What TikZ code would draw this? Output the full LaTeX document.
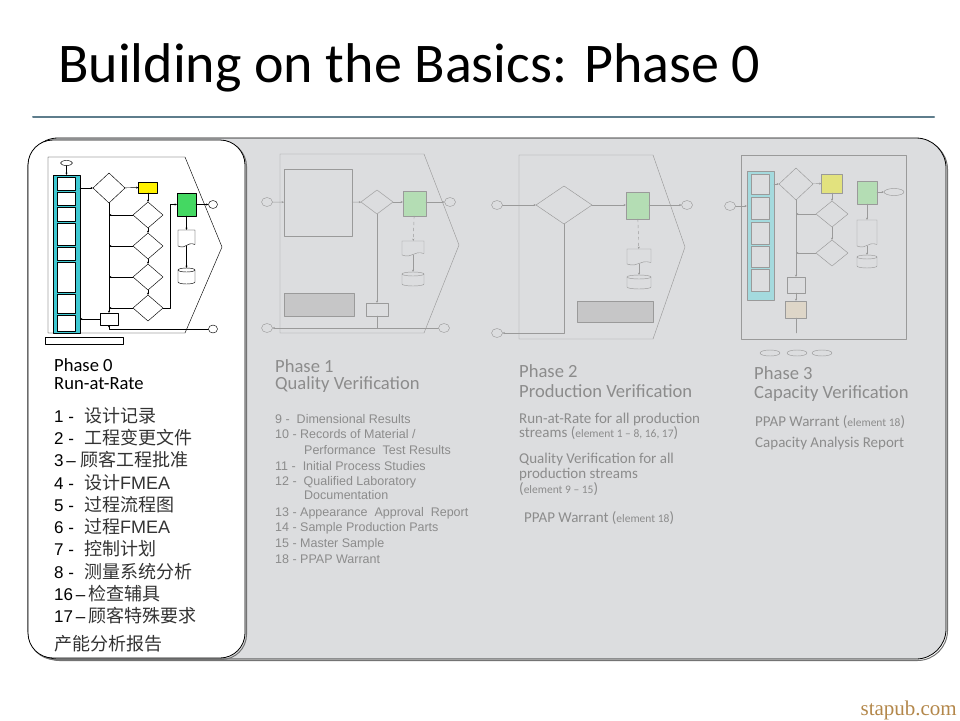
\documentclass[tikz,border=0pt]{standalone}
\usepackage{fontspec}
\setmainfont{Carlito}
\newfontfamily\arial{Liberation Sans}
\newfontfamily\cjk{Noto Sans CJK SC}
\newfontfamily\webfont{Liberation Serif}
\usetikzlibrary{shapes.geometric,arrows.meta}

\definecolor{panelgray}{HTML}{DCDDDF}
\definecolor{rulecol}{HTML}{5E7D8C}
\definecolor{fadetext}{HTML}{8C8C8C}
\definecolor{fadeline}{HTML}{9A9A9A}
\definecolor{barcyan}{HTML}{3EC8D2}
\definecolor{fadecyan}{HTML}{A4DADE}
\definecolor{flowgreen}{HTML}{44D862}
\definecolor{fadegreen}{HTML}{B4DDB4}
\definecolor{fadeyellow}{HTML}{E2E27E}
\definecolor{notegray}{HTML}{C6C6C7}
\definecolor{beige}{HTML}{DED6C8}
\definecolor{webbrown}{HTML}{B3874A}

\tikzset{
  fc/.style={draw, line width=0.45pt, inner sep=0pt, outer sep=0pt},
  fcbox/.style={fc, rectangle},
  fcdia/.style={fc, diamond},
  fcend/.style={fc, ellipse, minimum width=9pt, minimum height=8pt},
  fcspot/.style={fc, draw=none, rectangle},
  wh/.style 2 args={minimum width=#1pt, minimum height=#2pt},
  fcline/.style={line width=0.45pt},
  phasehead/.style={anchor=base west, inner sep=0pt, font=\fontsize{18.6}{18.6}\selectfont},
  p0num/.style={anchor=base west, inner sep=0pt, font=\arial\fontsize{17}{17}\selectfont},
  p0cjk/.style={anchor=base west, inner sep=0pt, font=\cjk\fontsize{18}{18}\selectfont, text=black!80},
  p1item/.style={anchor=base west, inner sep=0pt, font=\arial\fontsize{12.5}{12.5}\selectfont, text=fadetext},
  p2item/.style={anchor=base west, inner sep=0pt, font=\fontsize{15}{15}\selectfont, text=fadetext},
}
\newcommand{\elem}[1]{{\fontsize{11.5}{11.5}\selectfont #1}}
% document outline round a named spot
\newcommand{\docout}[2][]{%
  \draw[fcline,#1] (#2.north west) -- (#2.north east) -- ([yshift=1.5pt]#2.south east)
    .. controls ([yshift=5pt]#2.south) and ([yshift=-4pt]#2.south) .. (#2.south west) -- cycle;}
% data store outline round a named spot, #3 = half width
\newcommand{\cylout}[3][]{%
  \draw[fcline,#1] ([yshift=-2pt]#2.north west) -- ([yshift=2pt]#2.south west)
    arc[start angle=180, end angle=360, x radius=#3pt, y radius=2pt] -- ([yshift=-2pt]#2.north east);
  \draw[fcline,#1] ([yshift=-2pt]#2.north) ellipse[x radius=#3pt, y radius=2pt];}

\begin{document}
\begin{tikzpicture}[x=1pt, y=-1pt, line cap=round, line join=round, >={Stealth[length=2.4pt,width=2pt]}]
	\useasboundingbox (0,0) rectangle (960,720);
	
	% Title and rule
	\node[anchor=base west, inner sep=0pt, font=\fontsize{56}{60}\selectfont] (title) at (58,82) {Building on the Basics: Phase 0};
	\draw[rulecol, line width=2pt] (33,117) -- (934,117);
	
	% Gray panel with a light shadow
	\draw[black!55, line width=1pt, rounded corners=30pt] (29.5,139.5) rectangle (947.5,660.5);
	\draw[fill=panelgray, line width=0.8pt, rounded corners=30pt] (28,138) rectangle (946,659);
	
	% White panel (Phase 0)
	\draw[black!55, line width=1pt, rounded corners=25pt] (29.5,141.5) rectangle (246.5,659.5);
	\draw[fill=white, line width=0.8pt, rounded corners=25pt] (28,140) rectangle (245,658);
	
	% ---------- Phase 0 flow chart ----------
	\draw[fc] (48,157) -- (185,157) -- (222,247) -- (185,333) -- (48,333) -- cycle;
	\node[fcend, wh={12}{5}] (start0) at (66.5,163) {};
	\node[fcbox, fill=barcyan, wh={27}{158}] (bar0) at (66.5,254) {};
	\foreach \ya/\yb [count=\k] in {177/190,192/205,207/221,223/245,247/260,262/292,294/313,315/331}
		\node[fcbox, fill=white, minimum width=18pt, minimum height=\yb-\ya] (bx0\k) at (66.5,{(\ya+\yb)/2}) {};
	\node[fcdia, fill=white, wh={32}{30}] (d01) at (109,188) {};
	\node[fcbox, fill=yellow, wh={19}{11}] (y0) at (148,187.5) {};
	\node[fcdia, fill=white, wh={30}{26}] (d02) at (148,215) {};
	\node[fcdia, fill=white, wh={30}{26}] (d03) at (148,246) {};
	\node[fcdia, fill=white, wh={30}{26}] (d04) at (148,277) {};
	\node[fcdia, fill=white, wh={30}{26}] (d05) at (148,308) {};
	\node[fcbox, fill=flowgreen, wh={19}{23}] (g0) at (186.5,204.5) {};
	\node[fcend] (c01) at (213,204.5) {};
	\node[fcspot, wh={17}{16}] (doc0) at (186.5,238) {};
	\docout[fill=white]{doc0}
	\node[fcspot, wh={17}{16}] (cyl0) at (186.5,276) {};
	\cylout[fill=white]{cyl0}{8.5}
	\node[fcbox, fill=white, wh={18}{12}] (b0) at (109,319) {};
	\node[fcend] (c02) at (213,329) {};
	\node[fcbox, wh={78}{7}] (cap0) at (84,340.5) {};
	\coordinate (k0) at (170,0);
	
	\draw[->, fcline] (start0) -- (bar0);
	\draw[->, fcline] (bar0.east |- d01) -- (d01);
	\draw[->, fcline] (d01) -- (y0);
	\draw[->, fcline] (y0) -- (d02);
	\draw[->, fcline] (d02) -- (d03);
	\draw[->, fcline] (d03) -- (d04);
	\draw[->, fcline] (d04) -- (d05);
	\foreach \d in {d02,d03,d04,d05}
		\draw[->, fcline] (\d) -- (\d -| d01);
	\draw[->, fcline] (d01) -- (b0);
	\draw[->, fcline] (d05.east) -- (d05.east -| k0) |- (g0.west);
	\draw[->, fcline] (g0) -- (c01);
	\draw[->, fcline] (g0) -- (doc0);
	\draw[->, fcline] (doc0) -- (cyl0);
	\draw[->, fcline] (b0) -- (b0 -| bar0.east);
	\draw[->, fcline] (c02) -| (b0.south);
	
	% ---------- Phase 1 flow chart ----------
	\begin{scope}[fadeline]
		\draw[fc] (280,154) -- (424,154) -- (459,245) -- (424,333) -- (280,333) -- cycle;
		\node[fcend, wh={11}{9}] (c11) at (267,202) {};
		\node[fcbox, wh={68}{67}] (box11) at (318,202.5) {};
		\node[fcdia, wh={32}{24}] (d11) at (377,202) {};
		\node[fcbox, fill=fadegreen, wh={23}{25}] (g1) at (414.5,203.5) {};
		\node[fcend, wh={11}{9}] (c12) at (450,202) {};
		\node[fcspot, wh={22}{14}] (doc1) at (413,248) {};
		\docout{doc1}
		\node[fcspot, wh={22}{14}] (cyl1) at (413,279) {};
		\cylout{cyl1}{11}
		\node[fcbox, fill=notegray, wh={70}{23}] (note1) at (319,304.5) {};
		\node[fcbox, wh={22}{13}] (b1) at (377,309.5) {};
		\node[fcend, wh={11}{9}] (c13) at (267,328) {};
		\node[fcend, wh={11}{9}] (c14) at (444,328) {};
		
		\draw[->, fcline] (c11) -- (box11);
		\draw[->, fcline] (box11) -- (d11);
		\draw[->, fcline] (d11) -- (g1.west |- d11);
		\draw[->, fcline] (g1.east |- c12) -- (c12);
		\draw[->, fcline, dashed] (g1) -- (doc1);
		\draw[->, fcline] (doc1) -- (cyl1);
		\draw[->, fcline] (d11) -- (b1);
		\draw[fcline] (b1) -- (b1 |- c13);
		\draw[->, fcline] (c14) -- (c13);
	\end{scope}
	
	% ---------- Phase 2 flow chart ----------
	\begin{scope}[fadeline]
		\draw[fc] (519,155) -- (653,155) -- (685,247) -- (653,339) -- (519,339) -- cycle;
		\node[fcend, wh={11}{9}] (c21) at (497,205) {};
		\node[fcdia, wh={56}{38}] (d21) at (564,205) {};
		\node[fcbox, fill=fadegreen, wh={23}{27}] (g2) at (637.5,205.5) {};
		\node[fcend, wh={11}{9}] (c22) at (687,205) {};
		\node[fcspot, wh={24}{15}] (doc2) at (639,256.5) {};
		\docout{doc2}
		\node[fcspot, wh={24}{14}] (cyl2) at (639,282) {};
		\cylout{cyl2}{12}
		\node[fcbox, fill=notegray, wh={76}{21}] (note2) at (615,311.5) {};
		\node[fcend, wh={11}{9}] (c23) at (497,333) {};
		
		\draw[->, fcline] (c21) -- (d21);
		\draw[->, fcline] (d21) -- (g2.west |- d21);
		\draw[->, fcline] (g2.east |- c22) -- (c22);
		\draw[->, fcline, dashed] (g2) -- (doc2);
		\draw[->, fcline] (doc2) -- (cyl2);
		\draw[->, fcline] (d21) |- (c23);
	\end{scope}
	
	% ---------- Phase 3 flow chart ----------
	\begin{scope}[fadeline]
		\draw[fc] (741,155) rectangle (906,339);
		\node[fcend, wh={11}{9}] (c31) at (730,206) {};
		\node[fcbox, fill=fadecyan, wh={27}{129}] (bar3) at (760.5,235.5) {};
		\foreach \ya/\yb [count=\k] in {174/194,197/219,222/244,246/267,269/291}
			\node[fcbox, fill=panelgray, minimum width=18pt, minimum height=\yb-\ya] (bx3\k) at (760.5,{(\ya+\yb)/2}) {};
		\node[fcdia, wh={34}{32}] (d31) at (796,184) {};
		\node[fcbox, fill=fadeyellow, wh={21}{19}] (y3) at (832,183.5) {};
		\node[fcdia, wh={32}{26}] (d32) at (832,214) {};
		\node[fcdia, wh={32}{26}] (d33) at (832,253) {};
		\node[fcbox, fill=fadegreen, wh={20}{23}] (g3) at (867,192.5) {};
		\node[fcend, wh={20}{7}] (t3) at (894,192) {};
		\node[fcspot, wh={20}{26}] (doc3) at (867,233) {};
		\docout{doc3}
		\node[fcspot, wh={20}{13}] (cyl3) at (867,261.5) {};
		\cylout{cyl3}{10}
		\node[fcbox, wh={18}{16}] (b31) at (796,285) {};
		\node[fcbox, fill=beige, wh={21}{17}] (b32) at (796,309.5) {};
		\coordinate (e3) at (796,333);
		\node[fcend, wh={20}{6}] (o31) at (770,353) {};
		\node[fcend, wh={20}{6}] (o32) at (797,353) {};
		\node[fcend, wh={20}{6}] (o33) at (822,353) {};
		
		\draw[->, fcline] (c31) -- (c31 -| bar3.west);
		\draw[->, fcline] (bar3.east |- d31) -- (d31);
		\draw[->, fcline] (d31) -- (y3);
		\draw[->, fcline] (y3) -- (d32);
		\draw[->, fcline] (d32) -- (d33);
		\draw[->, fcline] (d32) -- (d32 -| d31);
		\draw[->, fcline] (d33) -- (d33 -| d31);
		\draw[->, fcline] (d31) -- (b31);
		\draw[->, fcline] (b31) -- (b32);
		\draw[fcline] (b32) -- (e3);
		\draw[->, fcline] (g3.east |- t3) -- (t3);
		\draw[->, fcline] (g3) -- (doc3);
		\draw[->, fcline] (doc3) -- (cyl3);
	\end{scope}
	
	% ---------- Phase 0 text ----------
	\node[phasehead] (h0a) at (54,371) {Phase 0};
	\node[phasehead] (h0b) at (54,389) {Run-at-Rate};
	\foreach \num/\txt/\cx/\yy [count=\i] in {
		1 -/设计记录/84/422, 2 -/工程变更文件/84/444.5, 3\,–/顾客工程批准/80/466.5,
		4 -/设计{\arial FMEA}/84/489, 5 -/过程流程图/84/511, 6 -/过程{\arial FMEA}/84/533.5,
		7 -/控制计划/84/555.5, 8 -/测量系统分析/84/578, 16\,–/检查辅具/88/600,
		17\,–/顾客特殊要求/88/622.5}
	{
		\node[p0num] (n\i) at (54,\yy) {\num};
		\node[p0cjk] (t\i) at (\cx,\yy) {\txt};
	}
	\node[p0cjk] (cap) at (54,650) {产能分析报告};
	
	% ---------- Phase 1 text ----------
	\node[phasehead, text=fadetext] (h1a) at (275,372) {Phase 1};
	\node[phasehead, text=fadetext] (h1b) at (275,389) {Quality Verification};
	\foreach \txt/\xx/\yy [count=\i] in {
		{9 -\ \ Dimensional Results}/275/423, {10 - Records of Material /}/275/438.5,
		{Performance\ \ Test Results}/304/454, {11 -\ \ Initial Process Studies}/275/470,
		{12 -\ \ Qualified Laboratory}/275/485, {Documentation}/304/499.5,
		{13 - Appearance\ \ Approval\ \ Report}/275/516, {14 - Sample Production Parts}/275/531.5,
		{15 - Master Sample}/275/547.5, {18 - PPAP Warrant}/275/563.5}
		\node[p1item] (q\i) at (\xx,\yy) {\txt};
	
	% ---------- Phase 2 text ----------
	\node[phasehead, text=fadetext] (h2a) at (519,377) {Phase 2};
	\node[phasehead, text=fadetext] (h2b) at (519,397) {Production Verification};
	\node[p2item] (r1) at (519,423) {Run-at-Rate for all production};
	\node[p2item] (r2) at (519,437) {streams (\elem{element 1 – 8, 16, 17})};
	\node[p2item] (r3) at (519,463) {Quality Verification for all};
	\node[p2item] (r4) at (519,478) {production streams};
	\node[p2item] (r5) at (519,493) {(\elem{element 9 – 15})};
	\node[p2item] (r6) at (524,522) {PPAP Warrant (\elem{element 18})};
	
	% ---------- Phase 3 text ----------
	\node[phasehead, text=fadetext] (h3a) at (754,379) {Phase 3};
	\node[phasehead, text=fadetext] (h3b) at (754,398) {Capacity Verification};
	\node[p2item] (s1) at (755,426) {PPAP Warrant (\elem{element 18})};
	\node[p2item] (s2) at (755,447) {Capacity Analysis Report};
	
	% Watermark
	\node[anchor=base east, inner sep=0pt, font=\webfont\fontsize{21}{21}\selectfont, text=webbrown] (web) at (957,715) {stapub.com};
\end{tikzpicture}
\end{document}
